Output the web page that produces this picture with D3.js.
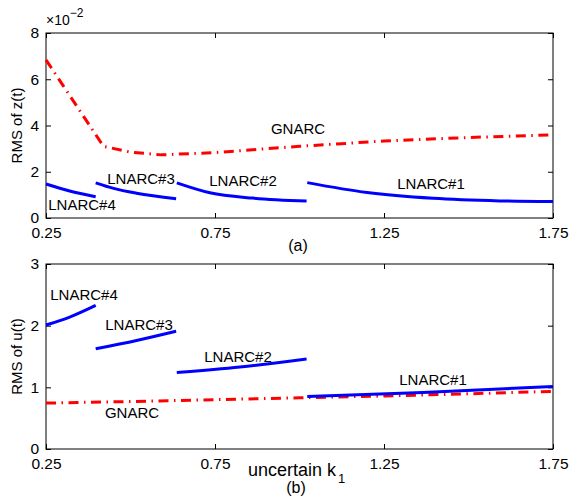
<!DOCTYPE html>
<html>
<head>
<meta charset="utf-8">
<script src="https://cdn.jsdelivr.net/npm/d3@7"></script>
<style>
  body { margin: 0; background: #fff; }
  svg { display: block; font-family: 'Liberation Sans', Arial, sans-serif; }
</style>
</head>
<body>
<div id="chart"></div>
<script>
// values; top panel is in units of 1e-2
const xTicks = [0.25, 0.75, 1.25, 1.75];
const yTicksA = [0, 2, 4, 6, 8];
const yTicksB = [0, 1, 2, 3];

const gnarcA = {
  k: [0.25, 0.42, 0.5, 0.59, 0.75, 1.0, 1.25, 1.5, 1.75],
  v: [6.84, 3.1, 2.85, 2.73, 2.83, 3.1, 3.33, 3.48, 3.6]
};
const lnarc4A = { k: [0.25, 0.32, 0.397], v: [1.47, 1.17, 0.92] };
const lnarc3A = { k: [0.397, 0.45, 0.518, 0.635], v: [1.52, 1.28, 1.07, 0.83] };
const lnarc2A = { k: [0.637, 0.735, 0.862, 1.021], v: [1.52, 1.09, 0.86, 0.73] };
const lnarc1A = { k: [1.023, 1.2, 1.395, 1.593, 1.75], v: [1.53, 1.1, 0.85, 0.74, 0.71] };

const gnarcB = {
  k: [0.25, 0.5, 0.75, 1.0, 1.25, 1.5, 1.75],
  v: [0.745, 0.77, 0.8, 0.83, 0.86, 0.895, 0.935]
};
const lnarc4B = { k: [0.25, 0.32, 0.397], v: [2.01, 2.14, 2.33] };
const lnarc3B = { k: [0.397, 0.518, 0.635], v: [1.625, 1.76, 1.91] };
const lnarc2B = { k: [0.637, 0.824, 1.021], v: [1.24, 1.33, 1.46] };
const lnarc1B = { k: [1.023, 1.365, 1.75], v: [0.853, 0.917, 1.015] };

const width = 569;
const height = 498;

const svg = d3.select('#chart')
  .append('svg')
  .attr('width', width)
  .attr('height', height);

const xScale = d3.scaleLinear().domain([0.25, 1.75]).range([46, 553]);

function drawPanel(opts) {
  const yScale = d3.scaleLinear().domain(opts.yDomain).range([opts.bottom, opts.top]);
  const g = svg.append('g');

  // box ticks on all sides, pointing inward
  g.append('g')
    .attr('transform', `translate(0, ${opts.bottom})`)
    .call(d3.axisBottom(xScale).tickValues(xTicks).tickFormat(d3.format('.2f'))
      .tickSizeInner(-5).tickSizeOuter(0).tickPadding(9));
  g.append('g')
    .attr('transform', `translate(0, ${opts.top})`)
    .call(d3.axisTop(xScale).tickValues(xTicks).tickFormat('')
      .tickSizeInner(-5).tickSizeOuter(0));
  g.append('g')
    .attr('transform', `translate(${xScale.range()[0]}, 0)`)
    .call(d3.axisLeft(yScale).tickValues(opts.yTicks).tickFormat(d3.format('d'))
      .tickSizeInner(-5).tickSizeOuter(0).tickPadding(7));
  g.append('g')
    .attr('transform', `translate(${xScale.range()[1]}, 0)`)
    .call(d3.axisRight(yScale).tickValues(opts.yTicks).tickFormat('')
      .tickSizeInner(-5).tickSizeOuter(0));

  g.selectAll('.domain').remove();
  g.selectAll('.tick line').attr('stroke', '#000');
  g.selectAll('.tick text')
    .attr('fill', '#000')
    .style('font-size', '15.5px')
    .style('font-family', "'Liberation Sans', Arial, sans-serif");

  g.append('rect')
    .attr('x', xScale.range()[0])
    .attr('y', opts.top)
    .attr('width', xScale.range()[1] - xScale.range()[0])
    .attr('height', opts.bottom - opts.top)
    .attr('fill', 'none')
    .attr('stroke', '#000')
    .attr('stroke-width', 1);

  const line = d3.line()
    .x((d) => xScale(d[0]))
    .y((d) => yScale(d[1]));

  const pairs = (s) => s.k.map((k, i) => [k, s.v[i]]);

  // red dash-dot global curve
  g.append('path')
    .attr('d', line(pairs(opts.gnarc)))
    .attr('fill', 'none')
    .attr('stroke', '#ff0000')
    .attr('stroke-width', 3)
    .attr('stroke-dasharray', '10,5.5,1.5,5.5');

  // blue local curves
  const smooth = d3.line()
    .curve(d3.curveMonotoneX)
    .x((d) => xScale(d[0]))
    .y((d) => yScale(d[1]));

  opts.locals.forEach((s) => {
    g.append('path')
      .attr('d', smooth(pairs(s)))
      .attr('fill', 'none')
      .attr('stroke', '#0000ff')
      .attr('stroke-width', 3);
  });

  opts.labels.forEach(([txt, x, y]) => {
    g.append('text')
      .attr('x', x)
      .attr('y', y)
      .attr('text-anchor', 'middle')
      .attr('dominant-baseline', 'central')
      .style('font-size', '15px')
      .text(txt);
  });

  // y axis title
  g.append('text')
    .attr('transform', `translate(16, ${(opts.top + opts.bottom) / 2}) rotate(-90)`)
    .attr('text-anchor', 'middle')
    .attr('dominant-baseline', 'central')
    .style('font-size', '15px')
    .text(opts.yLabel);
}

drawPanel({
  top: 33, bottom: 218,
  yDomain: [0, 8], yTicks: yTicksA,
  gnarc: gnarcA,
  locals: [lnarc4A, lnarc3A, lnarc2A, lnarc1A],
  labels: [['GNARC', 298, 128], ['LNARC#3', 141, 178], ['LNARC#2', 243, 180],
           ['LNARC#4', 82, 204], ['LNARC#1', 431, 183]],
  yLabel: 'RMS of z(t)'
});

drawPanel({
  top: 264, bottom: 449,
  yDomain: [0, 3], yTicks: yTicksB,
  gnarc: gnarcB,
  locals: [lnarc4B, lnarc3B, lnarc2B, lnarc1B],
  labels: [['LNARC#4', 84, 294], ['LNARC#3', 139, 324], ['LNARC#2', 238, 356],
           ['LNARC#1', 433, 379], ['GNARC', 132, 412]],
  yLabel: 'RMS of u(t)'
});

// exponent note for top panel
const expo = svg.append('text').attr('x', 46).attr('y', 25).style('font-size', '14px');
expo.append('tspan').text('\u00d710');
expo.append('tspan').attr('dy', -8).style('font-size', '12px').text('\u22122');

// panel captions
svg.append('text').attr('x', 298).attr('y', 251).attr('text-anchor', 'middle')
  .style('font-size', '16px').text('(a)');
svg.append('text').attr('x', 296).attr('y', 493).attr('text-anchor', 'middle')
  .style('font-size', '16px').text('(b)');

// x axis title
const xt = svg.append('text').attr('x', 248).attr('y', 476).style('font-size', '18px');
xt.append('tspan').text('uncertain k');
xt.append('tspan').attr('dx', 2).attr('dy', 7).style('font-size', '13px').text('1');
</script>
</body>
</html>
